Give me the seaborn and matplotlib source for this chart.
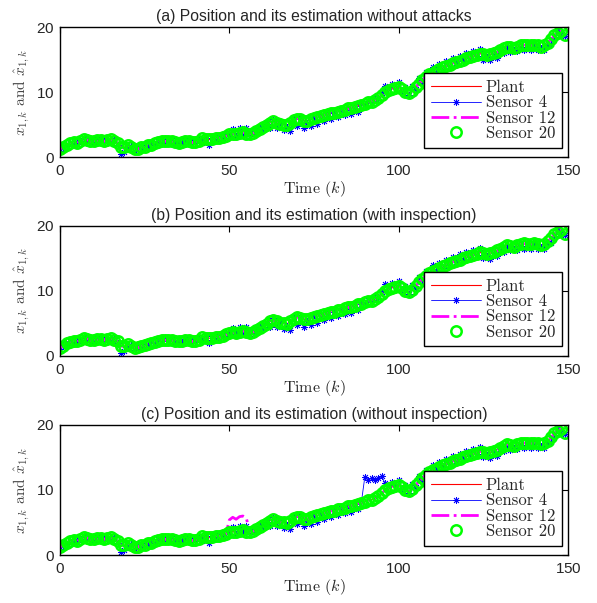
"""
Position and its estimation at the sensors, three scenarios
(no attacks / attacks with inspection / attacks without inspection)
"""

import numpy as np
import pandas as pd
import matplotlib
matplotlib.use("Agg")
import matplotlib.pyplot as plt
import seaborn as sns

sns.set_style("white")
plt.rcParams['font.family'] = ['Liberation Sans', 'DejaVu Sans']
plt.rcParams['mathtext.fontset'] = 'cm'
plt.rcParams['axes.formatter.use_mathtext'] = True

# time steps k = 0..149
time_k = list(range(150))

# plant position x_{1,k}
plant = [
    1.2, 1.5, 1.9, 2.0, 2.3, 2.1, 2.5, 2.7, 2.6, 2.4, 2.5, 2.5, 2.6, 2.5, 2.6,
    2.7, 2.5, 2.2, 1.4, 1.5, 1.8, 1.4, 1.2, 1.3, 1.5, 1.5, 1.8, 1.9, 2.1, 2.3,
    2.4, 2.5, 2.4, 2.4, 2.3, 2.2, 2.2, 2.4, 2.5, 2.3, 2.3, 2.5, 2.9, 2.8, 2.7,
    2.8, 2.9, 2.9, 3.1, 3.3, 3.5, 3.6, 3.5, 3.7, 3.8, 3.6, 3.5, 3.7, 4.0, 4.3,
    4.6, 4.9, 5.3, 5.5, 5.3, 5.1, 5.0, 4.9, 5.3, 5.7, 5.9, 5.8, 5.6, 5.6, 5.8,
    6.0, 6.1, 6.3, 6.4, 6.6, 6.7, 6.8, 7.0, 7.1, 7.3, 7.5, 7.5, 7.7, 7.9, 8.0,
    8.2, 8.4, 8.5, 8.8, 9.1, 9.5, 10.0, 10.3, 10.5, 10.6, 10.7, 10.5, 10.0, 9.8, 10.1,
    10.7, 11.3, 11.8, 12.3, 12.8, 13.0, 13.2, 13.5, 13.8, 14.0, 14.2, 14.4, 14.6, 14.8, 15.0,
    15.2, 15.4, 15.5, 15.7, 15.9, 15.8, 15.7, 15.8, 16.0, 16.2, 16.5, 16.8, 17.0, 16.9, 16.8,
    17.0, 17.2, 17.3, 17.2, 17.2, 17.3, 17.2, 17.0, 17.2, 17.6, 18.1, 18.7, 19.1, 19.4, 18.8,
]

# estimate at sensor 4
sensor4 = [
    1.0, 1.6, 1.7, 2.2, 2.0, 2.3, 2.4, 2.9, 2.4, 2.6, 2.3, 2.7, 2.4, 2.8, 2.4,
    2.5, 2.7, 1.9, 0.5, 0.7, 1.5, 1.7, 0.9, 1.5, 1.3, 1.7, 1.6, 2.1, 1.9, 2.5,
    2.2, 2.7, 2.2, 2.6, 2.1, 2.4, 2.0, 2.6, 2.3, 2.5, 2.1, 2.7, 2.2, 3.0, 1.9,
    3.0, 2.7, 3.1, 2.9, 3.5, 3.3, 4.3, 3.3, 4.5, 3.6, 4.4, 3.3, 3.9, 3.8, 4.5,
    4.4, 5.1, 4.5, 5.8, 4.4, 5.4, 4.1, 4.6, 4.0, 5.9, 4.8, 6.1, 4.5, 5.3, 4.8,
    6.2, 5.1, 6.5, 5.5, 6.8, 5.8, 7.0, 6.1, 7.3, 6.4, 7.7, 6.6, 7.9, 7.0, 8.2,
    8.0, 8.6, 8.3, 9.0, 8.9, 9.8, 11.0, 10.7, 11.2, 10.9, 11.5, 10.3, 10.8, 9.5, 10.9,
    10.5, 12.1, 11.6, 13.1, 12.6, 13.9, 13.0, 14.3, 13.5, 14.8, 14.0, 15.2, 14.4, 15.6, 14.8,
    16.0, 15.2, 16.3, 15.5, 16.6, 15.0, 15.4, 14.9, 15.8, 15.3, 16.3, 16.0, 16.8, 16.2, 16.5,
    16.3, 16.9, 16.5, 16.9, 16.4, 17.0, 16.5, 16.7, 16.4, 17.3, 17.4, 18.5, 19.6, 19.2, 18.6,
]

# estimate at sensor 12
sensor12 = [
    1.3, 1.4, 2.0, 1.9, 2.4, 2.0, 2.6, 2.6, 2.7, 2.3, 2.6, 2.4, 2.7, 2.4, 2.7,
    2.6, 2.6, 2.1, 1.5, 1.4, 1.9, 1.3, 1.3, 1.2, 1.6, 1.4, 1.9, 1.8, 2.2, 2.2,
    2.5, 2.4, 2.5, 2.3, 2.4, 2.1, 2.3, 2.3, 2.6, 2.2, 2.4, 2.4, 3.0, 2.7, 2.8,
    2.7, 3.0, 2.8, 3.2, 3.2, 3.6, 3.5, 3.6, 3.6, 3.9, 3.5, 3.6, 3.6, 4.1, 4.2,
    4.7, 4.8, 5.4, 5.4, 5.4, 5.0, 5.1, 4.8, 5.4, 5.6, 6.0, 5.7, 5.7, 5.5, 5.9,
    5.9, 6.2, 6.2, 6.5, 6.5, 6.8, 6.7, 7.1, 7.0, 7.4, 7.4, 7.6, 7.6, 8.0, 7.9,
    8.3, 8.3, 8.6, 8.7, 9.2, 9.4, 10.1, 10.2, 10.6, 10.5, 10.8, 10.4, 10.1, 9.7, 10.2,
    10.6, 11.4, 11.7, 12.4, 12.7, 13.1, 13.1, 13.6, 13.7, 14.1, 14.1, 14.5, 14.5, 14.9, 14.9,
    15.3, 15.3, 15.6, 15.6, 16.0, 15.7, 15.8, 15.7, 16.1, 16.1, 16.6, 16.7, 17.1, 16.8, 16.9,
    16.9, 17.3, 17.2, 17.3, 17.1, 17.4, 17.1, 17.1, 17.1, 17.7, 18.0, 18.8, 19.0, 19.5, 18.7,
]

# estimate at sensor 20
sensor20 = [
    1.2, 1.5, 1.9, 2.1, 2.3, 2.2, 2.5, 2.7, 2.6, 2.5, 2.5, 2.6, 2.6, 2.5, 2.6,
    2.7, 2.5, 2.2, 1.5, 1.5, 1.8, 1.5, 1.2, 1.3, 1.5, 1.6, 1.8, 1.9, 2.1, 2.3,
    2.4, 2.5, 2.4, 2.5, 2.3, 2.2, 2.3, 2.4, 2.5, 2.3, 2.3, 2.5, 2.9, 2.8, 2.7,
    2.8, 2.9, 2.9, 3.1, 3.3, 3.5, 3.6, 3.5, 3.7, 3.8, 3.6, 3.5, 3.7, 4.0, 4.3,
    4.6, 4.9, 5.3, 5.5, 5.3, 5.1, 5.0, 4.9, 5.3, 5.7, 5.9, 5.8, 5.6, 5.6, 5.8,
    6.0, 6.1, 6.3, 6.4, 6.6, 6.7, 6.8, 7.0, 7.1, 7.3, 7.5, 7.5, 7.7, 7.9, 8.0,
    8.2, 8.4, 8.5, 8.8, 9.1, 9.5, 10.0, 10.3, 10.5, 10.6, 10.7, 10.5, 10.0, 9.8, 10.1,
    10.7, 11.3, 11.8, 12.3, 12.8, 13.0, 13.2, 13.5, 13.8, 14.0, 14.2, 14.4, 14.6, 14.8, 15.0,
    15.2, 15.4, 15.5, 15.7, 15.9, 15.8, 15.7, 15.8, 16.0, 16.2, 16.5, 16.8, 17.0, 16.9, 16.8,
    17.0, 17.2, 17.3, 17.2, 17.2, 17.3, 17.2, 17.0, 17.2, 17.6, 18.1, 18.7, 19.1, 19.4, 18.8,
]

# attacked estimates in panel (c)
attack12_k = [50, 51, 52, 53, 54, 55]
attack12_vals = [5.4, 5.8, 5.5, 5.9, 6.0, 5.7]
attack4_k = [90, 91, 92, 93, 94, 95]
attack4_vals = [12.0, 11.6, 11.9, 11.5, 11.8, 12.1]

titles = [
    '(a) Position and its estimation without attacks',
    '(b) Position and its estimation (with inspection)',
    '(c) Position and its estimation (without inspection)',
]
labels = ['Plant', 'Sensor 4', 'Sensor 12', 'Sensor 20']

# panel (c): sensors 4 and 12 keep the attacked values
sensor4_c = list(sensor4)
for k, v in zip(attack4_k, attack4_vals):
    sensor4_c[k] = v
sensor12_c = list(sensor12)
for k, v in zip(attack12_k, attack12_vals):
    sensor12_c[k] = v

panels = [
    (sensor4, sensor12),
    (sensor4, sensor12),
    (sensor4_c, sensor12_c),
]

fig = plt.figure(figsize=(5.97, 6.03), dpi=100)
bottoms = [0.7396, 0.4100, 0.0796]
serif = 'cmr10'

for title, bottom, (s4, s12) in zip(titles, bottoms, panels):
    ax = fig.add_axes([0.1005, bottom, 0.851, 0.2156])
    df = pd.DataFrame({'k': time_k, 'plant': plant, 's4': s4,
                       's12': s12, 's20': sensor20})

    sns.lineplot(data=df, x='k', y='plant', ax=ax, color='#ff0000',
                 linewidth=0.8, estimator=None, legend=False)
    sns.lineplot(data=df, x='k', y='s4', ax=ax, color='#0000ff',
                 linewidth=0.6, marker=(8, 2, 0), markersize=5,
                 markeredgecolor='#0000ff', markeredgewidth=0.6,
                 estimator=None, legend=False)
    sns.lineplot(data=df, x='k', y='s12', ax=ax, color='#ff00ff',
                 linewidth=2.0, linestyle='-.', estimator=None, legend=False)
    sns.lineplot(data=df, x='k', y='s20', ax=ax, color='#00ff00',
                 linestyle='none', marker='o', markersize=7.5,
                 markerfacecolor='none', markeredgecolor='#00ff00',
                 markeredgewidth=1.8, estimator=None, legend=False)

    ax.set_xlim(0, 150)
    ax.set_ylim(0, 20)
    ax.set_xticks([0, 50, 100, 150])
    ax.set_yticks([0, 10, 20])
    ax.tick_params(direction='in', top=True, right=True, length=4,
                   width=0.8, labelsize=11, pad=5, color='black')
    ax.tick_params(axis='y', pad=4)
    for sp in ax.spines.values():
        sp.set_color('black')
        sp.set_linewidth(1.0)

    ax.set_title(title, fontsize=11.3, pad=4)
    ax.set_xlabel(r'Time $(k)$', fontsize=11.5, family=serif, labelpad=1)
    ax.set_ylabel(r'$x_{1,k}$ and $\hat{x}_{1,k}$', fontsize=11,
                  family=serif, color='#444444', labelpad=3)

    leg = ax.legend(handles=ax.lines[:4], labels=labels,
                    loc='lower right', bbox_to_anchor=(0.988, 0.0715),
                    borderaxespad=0, fancybox=False, framealpha=1,
                    edgecolor='black', prop={'family': serif, 'size': 12},
                    labelspacing=0.0, borderpad=0.4, handlelength=3.0,
                    handletextpad=0.3)
    leg.get_frame().set_linewidth(1.0)

plt.savefig('out.png', dpi=100)
plt.close()
